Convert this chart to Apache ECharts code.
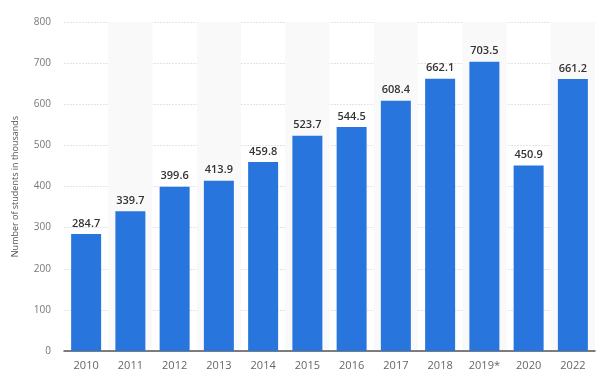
<!DOCTYPE html>
<html><head><meta charset="utf-8">
<script src="https://cdn.jsdelivr.net/npm/echarts@6/dist/echarts.min.js"></script>
<style>html,body{margin:0;padding:0;background:#fff}#c{width:602px;height:381px}</style>
</head><body><div id="c"></div>
<script>
var categories = ['2010','2011','2012','2013','2014','2015','2016','2017','2018','2019*','2020','2022'];
var values = [284.7, 339.7, 399.6, 413.9, 459.8, 523.7, 544.5, 608.4, 662.1, 703.5, 450.9, 661.2];
var yTicks = [0, 100, 200, 300, 400, 500, 600, 700, 800];
var yName = 'Number of students in thousands';

var chart = echarts.init(document.getElementById('c'), null, {renderer: 'canvas'});
chart.setOption({
  animation: false,
  grid: {left: 64, right: 7, top: 22, bottom: 30},
  xAxis: {
    type: 'category', data: categories,
    axisLine: {lineStyle: {color: '#555', width: 1.5}},
    axisTick: {show: false},
    axisLabel: {color: '#666', fontSize: 11, fontFamily: 'Open Sans', margin: 9},
    splitArea: {show: true, areaStyle: {color: ['rgba(255,255,255,0)', '#f9f9f9']}}
  },
  yAxis: {
    type: 'value', min: yTicks[0], max: yTicks[yTicks.length-1], interval: 100,
    name: yName, nameLocation: 'middle', nameGap: 44, nameRotate: 90,
    nameTextStyle: {color: '#555', fontSize: 9, fontFamily: 'Open Sans'},
    axisLine: {show: false}, axisTick: {show: false},
    axisLabel: {color: '#777', fontSize: 10, fontFamily: 'Open Sans', margin: 13},
    splitLine: {lineStyle: {color: '#e4e4e4', type: [2, 1]}}
  },
  series: [{
    type: 'bar', data: values, barWidth: 30,
    itemStyle: {color: '#2876dd'},
    label: {show: true, position: 'top', distance: 5, color: '#333', fontSize: 11, fontWeight: 600, fontFamily: 'Open Sans',
      formatter: function(p){ return p.value.toFixed(1); }}
  }]
});
</script></body></html>
